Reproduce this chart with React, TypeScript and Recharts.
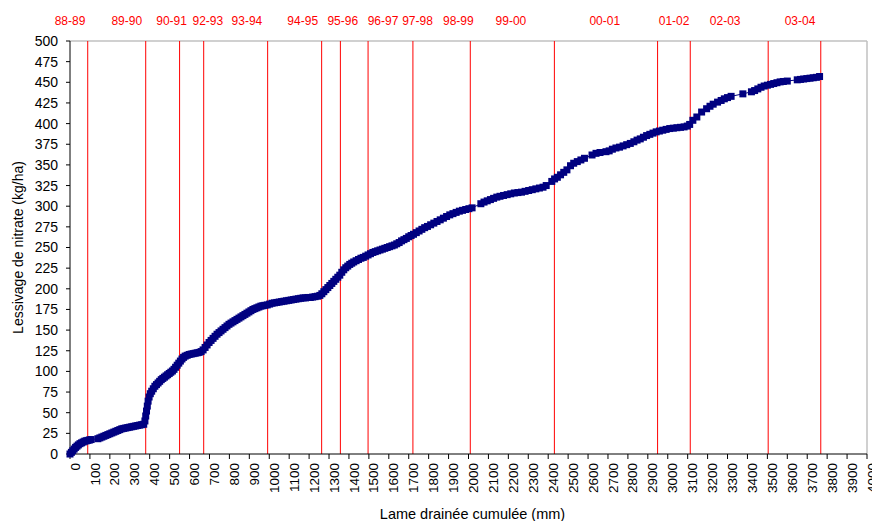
import React from 'react';
import { LineChart, Line, XAxis, YAxis, ReferenceLine, Label } from 'recharts';

// Cumulative drainage (mm)
const cumulativeDrainage = [
  0, 7, 14, 21, 28, 35, 42, 50, 58, 66, 74, 82, 90, 98, 106,
  140, 150, 160, 170, 180, 190, 200, 210, 220, 230, 240, 250, 260, 270, 280, 290, 300, 310, 320, 330, 340, 350, 360, 370,
  376, 380, 384, 388, 392, 397, 403, 410, 418, 426, 434, 442, 450, 458, 466, 474, 482, 490, 498, 506, 514, 522, 530, 538, 546, 554, 562, 570, 578, 588, 598, 608, 618, 628, 638, 648, 658,
  668, 678, 688, 698, 708, 718, 728, 738, 748, 758, 768, 778, 788, 798, 808, 818, 828, 838, 848, 858, 868, 878, 888, 898, 908, 918, 928, 938, 948, 958, 968, 978, 990,
  1002, 1014, 1026, 1038, 1050, 1062, 1074, 1086, 1098, 1110, 1122, 1134, 1146, 1158, 1170, 1182, 1194, 1206, 1218, 1230, 1242, 1254,
  1264, 1274, 1284, 1294, 1304, 1314, 1324, 1334, 1344, 1354, 1364, 1374, 1384, 1394, 1404, 1414, 1424, 1436, 1448, 1460, 1472, 1484, 1496,
  1508, 1520, 1532, 1544, 1556, 1568, 1580, 1592, 1604, 1616, 1628, 1640, 1652, 1664, 1676, 1688, 1700, 1712, 1724,
  1738, 1752, 1766, 1780, 1794, 1810, 1826, 1842, 1858, 1874, 1890, 1906, 1922, 1938, 1954, 1970, 1986, 2002, 2018,
  2062, 2078, 2094, 2110, 2126, 2142, 2158, 2176, 2194, 2212, 2230, 2248, 2266, 2284, 2302, 2320, 2338, 2356, 2374, 2390,
  2418, 2432, 2446, 2462, 2478, 2494, 2512, 2528, 2546, 2564, 2582,
  2620, 2640, 2660, 2690, 2706, 2722, 2740, 2758, 2776, 2794, 2812, 2830, 2846, 2862, 2878, 2894, 2910, 2926, 2942, 2958, 2975, 2992,
  3010, 3028, 3046, 3064, 3082, 3098, 3110, 3126, 3146, 3170, 3195, 3212, 3228, 3250, 3268, 3284, 3300, 3318, 3377,
  3420, 3436, 3452, 3468, 3484, 3500, 3516, 3532, 3548, 3564, 3580, 3600,
  3650, 3666, 3682, 3698, 3714, 3730, 3746, 3762,
];

// Cumulative nitrate leaching (kg/ha)
const nitrateLeaching = [
  0, 2, 4, 6, 8, 9.5, 11, 12.5, 13.5, 14.5, 15.5, 16, 16.5, 17, 17.5,
  18.5, 19.5, 20.5, 21.5, 22.5, 23.5, 24.5, 25.5, 26.5, 27.5, 28.5, 29.5, 30.5, 31, 31.5, 32, 32.5, 33, 33.5, 34, 34.5, 35, 35.5, 36,
  40, 46, 52, 58, 64, 69, 73, 76, 79, 82, 84, 86, 88, 90, 91.5, 93, 94.5, 96, 97.5, 99, 100.5, 102.5, 105, 107.5, 110, 112.5, 115, 117, 118.5, 119.5, 120.5, 121, 121.5, 122, 122.5, 123, 124,
  126, 129, 132, 135, 137.5, 140, 142.5, 145, 147, 149, 151, 153, 155, 157, 158.5, 160, 161.5, 163, 164.5, 166, 167.5, 169, 170.5, 172, 173.5, 175, 176, 177, 178, 179, 179.5, 180, 180.5,
  181.5, 182.5, 183, 183.5, 184, 184.5, 185, 185.5, 186, 186.5, 187, 187.5, 188, 188.5, 189, 189, 189.5, 189.5, 190, 190.5, 191, 192,
  194, 196.5, 199, 201.5, 204, 206.5, 209, 211.5, 214, 216.5, 220, 223, 225.5, 227.5, 229.5, 231, 232.5, 234, 235.5, 237, 238, 239.5, 241,
  242.5, 244, 245, 246, 247, 248, 249, 250, 251, 252, 253, 254.5, 256, 258, 259.5, 261, 263, 264.5, 266,
  268, 270, 272, 274, 275.5, 277.5, 279.5, 281.5, 283.5, 285.5, 287.5, 289.5, 291, 292.5, 294, 295, 296, 297, 298,
  303, 305, 306.5, 308, 309.5, 311, 312, 313, 314, 315, 316, 316.5, 317, 318, 319, 320, 321, 322, 323, 325,
  330, 333, 335, 338, 341, 344, 349, 352, 354, 356, 358,
  362, 364, 365, 366, 367, 369, 370.5, 371.5, 373, 374.5, 376, 378, 380, 381.5, 383.5, 385.5, 387, 388.5, 390, 391, 392, 393,
  394, 394.5, 395, 395.5, 396, 397, 399, 404, 408, 414, 418, 421, 423.5, 426, 428, 430, 431.5, 433, 436,
  438.5, 440, 442, 444, 445.5, 446.5, 447.5, 448.5, 449.5, 450.5, 451, 451.5,
  453, 453.5, 454, 454.5, 455, 455.5, 456, 457,
];

// Hydrological season boundaries (mm of cumulative drainage)
const seasonBoundaries = [89, 380, 550, 671, 992, 1263, 1357, 1496, 1721, 2009, 2431, 2949, 3113, 3504, 3768];

// Season labels and where they sit along the top
const seasonLabels = ['88-89', '89-90', '90-91', '92-93', '93-94', '94-95', '95-96', '96-97', '97-98', '98-99', '99-00', '00-01', '01-02', '02-03', '03-04'];
const seasonLabelPositions = [0, 285, 510, 692, 888, 1168, 1369, 1571, 1744, 1949, 2213, 2684, 3032, 3288, 3664];

const xTicks = [
  0, 100, 200, 300, 400, 500, 600, 700, 800, 900, 1000, 1100, 1200, 1300, 1400, 1500, 1600, 1700, 1800, 1900, 2000,
  2100, 2200, 2300, 2400, 2500, 2600, 2700, 2800, 2900, 3000, 3100, 3200, 3300, 3400, 3500, 3600, 3700, 3800, 3900, 4000,
];
const yTicks = [0, 25, 50, 75, 100, 125, 150, 175, 200, 225, 250, 275, 300, 325, 350, 375, 400, 425, 450, 475, 500];

const data = cumulativeDrainage.map((x, i) => ({ x, y: nitrateLeaching[i] }));

const labelMap: Record<number, string> = {};
seasonLabelPositions.forEach((p, i) => {
  labelMap[p] = seasonLabels[i];
});

const SquareDot = (props: any) => {
  const { cx, cy, index } = props;
  if (cx == null || cy == null) return <g key={`d${index}`} />;
  return <rect key={`d${index}`} x={cx - 3.5} y={cy - 3.5} width={7} height={7} fill="#000080" />;
};

export default function App() {
  return (
    <div style={{ position: 'absolute', left: 0, top: 0, fontFamily: '"Liberation Sans", Arial, sans-serif' }}>
      <LineChart width={872} height={521} data={data} margin={{ top: 0, right: 5, bottom: 0, left: 0 }}>
        <XAxis
          xAxisId="top"
          orientation="top"
          type="number"
          dataKey="x"
          domain={[0, 4000]}
          ticks={seasonLabelPositions}
          interval={0}
          height={41}
          axisLine={false}
          tickLine={false}
          tickSize={0}
          tickMargin={16}
          tickFormatter={(v: number) => labelMap[v] ?? ''}
          tick={{ fill: '#ff0000', fontSize: 12 }}
        />
        <XAxis
          xAxisId="main"
          type="number"
          dataKey="x"
          domain={[0, 4000]}
          ticks={xTicks}
          interval={0}
          height={67}
          stroke="#000"
          tickSize={5}
          tickMargin={4}
          tick={{ fill: '#000', fontSize: 13.5, angle: -90, textAnchor: 'end', verticalAnchor: 'middle' }}
        >
          <Label value="Lame drainée cumulée (mm)" position="insideBottom" offset={2} dx={4} style={{ fontSize: 14.5, fill: '#000' }} />
        </XAxis>
        <YAxis
          type="number"
          domain={[0, 500]}
          ticks={yTicks}
          interval={0}
          width={70}
          stroke="#000"
          tickSize={4}
          tickMargin={8}
          tick={{ fill: '#000', fontSize: 14 }}
        >
          <Label
            value="Lessivage de nitrate (kg/ha)"
            angle={-90}
            position="insideLeft"
            offset={18}
            style={{ textAnchor: 'middle', fontSize: 14, fill: '#000' }}
          />
        </YAxis>
        <ReferenceLine xAxisId="main" y={500} stroke="#c0c0c0" strokeWidth={1.5} />
        <ReferenceLine xAxisId="main" x={4000} stroke="#c0c0c0" strokeWidth={1.5} />
        {seasonBoundaries.map((b) => (
          <ReferenceLine key={b} xAxisId="main" x={b} stroke="#ff0000" strokeWidth={1} />
        ))}
        <Line
          xAxisId="main"
          type="linear"
          dataKey="y"
          stroke="#000080"
          strokeWidth={1}
          dot={SquareDot}
          activeDot={false}
          isAnimationActive={false}
        />
      </LineChart>
    </div>
  );
}
